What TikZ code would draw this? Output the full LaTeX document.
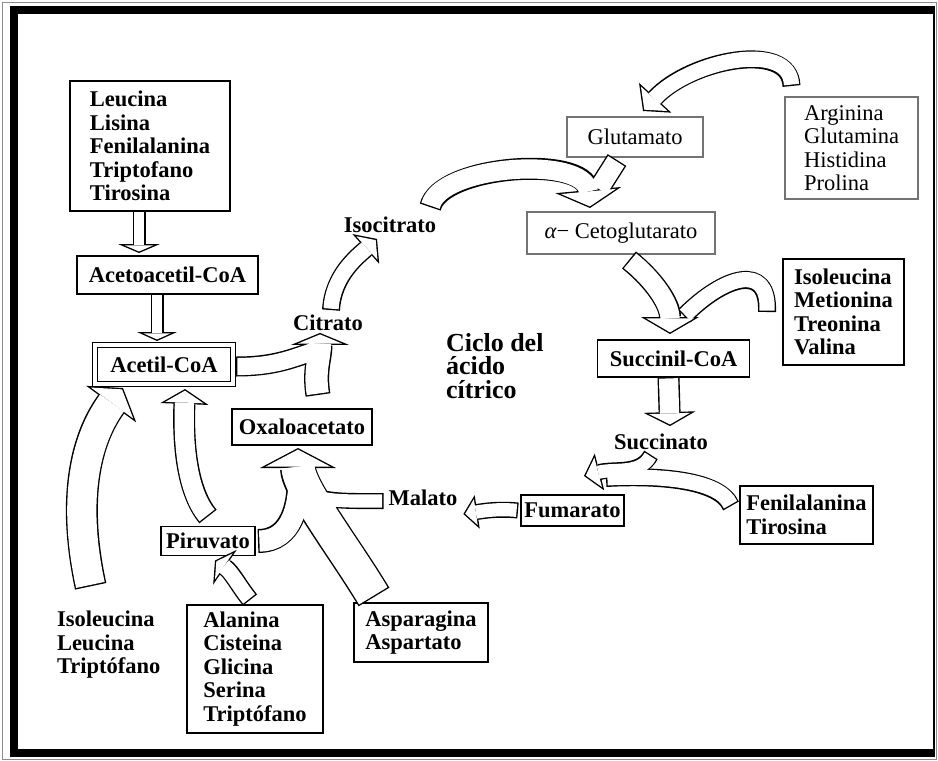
\documentclass[tikz,border=0pt]{standalone}
\usepackage{fontspec}
\setmainfont{Liberation Serif}
\usetikzlibrary{arrows.meta,calc}
\newcommand{\nf}{\fontsize{22.5}{23.5}\selectfont}
\newcommand{\bord}{1.4}

\begin{document}
\begin{tikzpicture}[x=1pt, y=-1pt,
    box/.style={draw, line width=1.2pt, inner sep=0pt, outer sep=0pt, align=left, font=\nf\bfseries},
    gbox/.style={box, draw=black!55, font=\nf},
    lbl/.style={inner sep=0pt, outer sep=0pt, align=left, font=\nf\bfseries},
    % block arrow: outer width, head width, head length (0 = no head)
    blk/.code n args={3}{%
      \ifnum\pass=1
        \pgfkeysalso{draw=black, line width=#1pt}%
        \ifdim #2pt>0pt
          \pgfkeysalso{-{Triangle[length=#3pt, width=#2pt, line width=0pt]}}%
        \fi
      \else
        \pgfmathsetmacro\bi{#1-2*\bord}%
        \pgfkeysalso{draw=white, line width=\bi pt, shorten <=\bord pt}%
        \ifdim #2pt>0pt
          \pgfmathsetmacro\dd{\bord*sqrt((#2/2)^2+(#3)^2)/(#2/2)}%
          \pgfmathsetmacro\li{#3-\dd-\bord}%
          \pgfmathsetmacro\wi{\li*#2/#3}%
          \pgfkeysalso{shorten >=\dd pt, -{Triangle[length=\li pt, width=\wi pt, line width=0pt]}}%
        \else
          \pgfkeysalso{shorten >=\bord pt}%
        \fi
      \fi
    }
]
    \useasboundingbox (0,0) rectangle (938,761);
    \fill[white] (0,0) rectangle (938,761);

    % frame
    \draw[black!45, line width=0.6pt] (2,2) rectangle (936,759);
    \draw[line width=8pt] (934,10) -| (14,753) -- (934,753);
    \draw[line width=1.2pt] (934,6) -- (934,757);

    % boxes
    \node[box, minimum width=160, minimum height=130] (leu) at (150,146) {Leucina\\Lisina\\Fenilalanina\\Triptofano\\Tirosina};
    \node[box, minimum width=181, minimum height=38] (acac) at (167.5,275) {Acetoacetil-CoA};
    \node[box, double, double distance=4pt, minimum width=138, minimum height=39] (acetil) at (164,364.5) {Acetil-CoA};
    \node[gbox, minimum width=136, minimum height=40] (glu) at (635,137) {Glutamato};
    \node[gbox, minimum width=133, minimum height=102] (arg) at (851.5,148) {Arginina\\Glutamina\\Histidina\\Prolina};
    \node[gbox, minimum width=188, minimum height=42] (akg) at (621,233) {{\itshape α}− Cetoglutarato};
    \node[box, minimum width=152, minimum height=37] (succ) at (673.5,358.5) {Succinil-CoA};
    \node[box, minimum width=121, minimum height=106] (ile) at (843.5,312) {Isoleucina\\Metionina\\Treonina\\Valina};
    \node[box, minimum width=140, minimum height=36] (oxa) at (302,427) {Oxaloacetato};
    \node[box, minimum width=94, minimum height=29] (pir) at (208,541) {Piruvato};
    \node[box, minimum width=103, minimum height=31] (fum) at (572.5,510.5) {Fumarato};
    \node[box, minimum width=133, minimum height=58] (fen) at (806.5,515) {Fenilalanina\\Tirosina};
    \node[box, minimum width=136, minimum height=128] (ala) at (255,669) {Alanina\\Cisteina\\Glicina\\Serina\\Triptófano};
    \node[box, minimum width=134, minimum height=59] (asp) at (421,632.5) {Asparagina\\Aspartato};

    % labels
    \node[lbl] (isocit) at (390,225) {Isocitrato};
    \node[lbl] (cit) at (328,323) {Citrato};
    \node[lbl] (mal) at (423,498) {Malato};
    \node[lbl] (succato) at (661,442) {Succinato};
    \node[lbl, anchor=north west, font=\fontsize{26}{23.5}\selectfont\bfseries] (ciclo) at (446,333) {Ciclo del\\ácido\\cítrico};
    \node[lbl, anchor=west] (ileuc) at (57,645) {Isoleucina\\Leucina\\Triptófano};

    % arrow ends
    \coordinate (citin) at ($(cit.south)+(-8,2)$);
    \coordinate (citmid) at ($(citin)+(-2,17)$);
    \coordinate (isoin) at ($(isocit.south)+(-13,6)$);
    \coordinate (akgin) at ($(akg.north)+(-31,-4)$);
    \coordinate (akgmid) at ($(akgin)+(8,-18)$);
    \coordinate (gluin) at ($(glu.north)+(8,-6)$);
    \coordinate (succin) at ($(succ.north)+(-3.5,-6)$);
    \coordinate (succmid) at ($(succin)+(14,-18)$);
    \coordinate (sucatoin) at ($(succato.north)+(9,-8)$);
    \coordinate (fumin) at (584,476);
    \coordinate (fummid) at (606,478);
    \coordinate (malin) at ($(mal.east)+(6,16)$);
    \coordinate (oxain) at ($(oxa.south)+(-4,3)$);
    \coordinate (oxamid) at ($(oxain)+(1,30)$);

    % block arrows, outlines first, then insides
    \foreach \pass in {1,2} {
        \draw[blk={13}{42}{9}] ($(leu.south)+(-11,0)$) -- ($(acac.north)+(-28.5,-3)$);
        \draw[blk={13}{40}{9}] ($(acac.south)+(-10.5,0)$) -- ($(acetil.north)+(-7,-4)$);
        \draw[blk={32}{62}{20}] ($(ileuc.north)+(-18,-25)$) .. controls (72,500) and (85,440) .. ($(acetil.south)+(-41,4)$);
        \draw[blk={22}{48}{15}] ($(pir.north)+(0,-10)$) .. controls (186,490) and (183,440) .. ($(acetil.south)+(21,5)$);
        \draw[blk={18}{42}{12}] ($(ala.north)+(-5,-5)$) .. controls (238,585) and (232,572) .. ($(pir.south)+(7,5)$);
        \draw[blk={20}{0}{0}] ($(acetil.east)+(3,2)$) .. controls +(40,0) and +(-25,8) .. (citmid);
        \draw[blk={25}{58}{12}] ($(oxa.north)+(16,-14)$) .. controls +(-4,-25) and +(0,25) .. (citin);
        \draw[blk={18}{40}{15}] ($(cit.north)+(3,-5)$) .. controls +(2,-35) and (358,256) .. (isoin);
        \draw[blk={22}{66}{18}] ($(isocit.north east)+(-6,-10)$) .. controls (440,165) and (585,155) .. (akgin);
        \draw[blk={22}{0}{0}] ($(glu.south)+(-18,3)$) -- (akgmid);
        \draw[blk={18}{44}{18}] ($(arg.north)+(-60,-11)$) .. controls (790,40) and (690,60) .. (gluin);
        \draw[blk={22}{58}{17}] ($(akg.south)+(8,6)$) .. controls +(25,20) and +(0,-30) .. (succin);
        \draw[blk={18}{0}{0}] ($(ile.west)+(-16,0)$) .. controls +(2,-50) and +(40,-40) .. (succmid);
        \draw[blk={22}{52}{14}] ($(succ.south)+(-5,0)$) -- (sucatoin);
        \draw[blk={16}{38}{16}] ($(succato.south)+(-10,5)$) .. controls (640,475) and (615,468) .. (fumin);
        \draw[blk={18}{0}{0}] ($(fen.west)+(-9,-9)$) .. controls (720,480) and (660,475) .. (fummid);
        \draw[blk={16}{34}{14}] ($(fum.west)+(-3,0)$) .. controls +(-20,-2) and +(20,-3) .. (malin);
        \draw[blk={16}{0}{0}] ($(mal.west)+(-5,3)$) .. controls +(-45,0) and +(5,25) .. (oxamid);
        \draw[blk={24}{0}{0}] ($(pir.east)+(3,0)$) .. controls +(35,0) and +(0,25) .. (oxamid);
        \draw[blk={36}{76}{20}] ($(asp.north)+(-47,-6)$) .. controls +(-30,-50) and +(0,40) .. (oxain);
    }
\end{tikzpicture}
\end{document}
